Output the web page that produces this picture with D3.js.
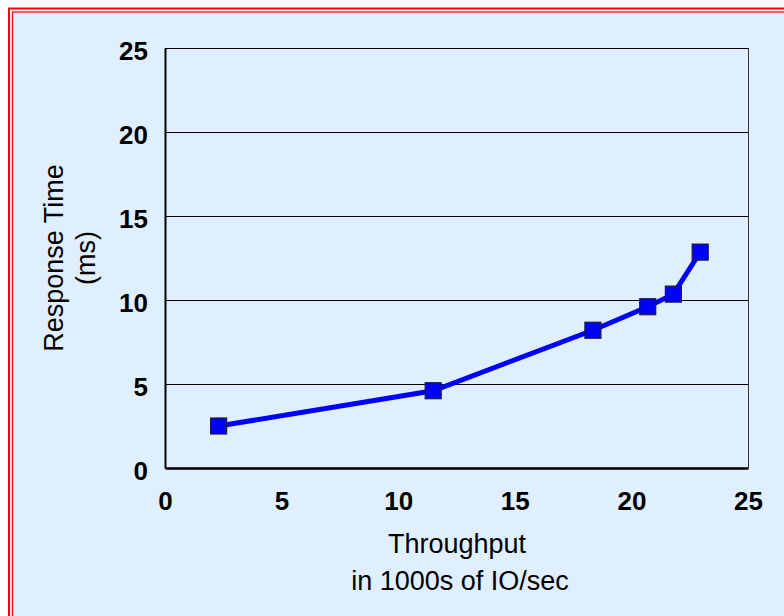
<!DOCTYPE html>
<html lang="en">
<head>
<meta charset="utf-8">
<title>Response Time vs Throughput</title>
<script src="https://d3js.org/d3.v7.min.js"></script>
<style>
  body { margin: 0; background: #ffffff; }
  .tick text { font-family: "Liberation Sans", Arial, sans-serif; font-weight: bold; font-size: 26px; fill: #000; }
  .title { font-family: "Liberation Sans", Arial, sans-serif; font-size: 27px; fill: #000; }
</style>
</head>
<body>
<script>
// data
const throughput = [2.3, 11.5, 18.35, 20.7, 21.8, 22.95];
const responseTime = [2.5, 4.6, 8.2, 9.6, 10.35, 12.85];
const xTicks = [0, 5, 10, 15, 20, 25];
const yTicks = [0, 5, 10, 15, 20, 25];

const W = 784, H = 616;
const plot = { left: 165, right: 748, top: 48, bottom: 468 };

const svg = d3.select("body").append("svg")
  .attr("width", W).attr("height", H);

// background + red double frame (frame runs off the right/bottom edges)
svg.append("rect").attr("x", 0).attr("y", 0).attr("width", W).attr("height", H).attr("fill", "#ffffff");
svg.append("rect").attr("x", 9).attr("y", 8.5).attr("width", W + 20).attr("height", H + 20)
  .attr("fill", "#dfefff").attr("stroke", "#ff0000").attr("stroke-width", 2);
svg.append("rect").attr("x", 12.5).attr("y", 12).attr("width", W + 20).attr("height", H + 20)
  .attr("fill", "none").attr("stroke", "#ff0000").attr("stroke-width", 1.2);

const x = d3.scaleLinear().domain([0, 25]).range([plot.left, plot.right]);
const y = d3.scaleLinear().domain([0, 25]).range([plot.bottom, plot.top]);

// gridlines
svg.append("g").selectAll("line")
  .data(yTicks.filter(d => d > 0))
  .join("line")
  .attr("x1", plot.left).attr("x2", plot.right)
  .attr("y1", d => Math.round(y(d)) + 0.5).attr("y2", d => Math.round(y(d)) + 0.5)
  .attr("stroke", "#000").attr("stroke-width", 1);

// right border of plot
svg.append("line")
  .attr("x1", plot.right + 0.5).attr("x2", plot.right + 0.5)
  .attr("y1", plot.top).attr("y2", plot.bottom)
  .attr("stroke", "#333").attr("stroke-width", 1);

// axes
const xAxis = d3.axisBottom(x).tickValues(xTicks).tickSize(0).tickPadding(24);
const yAxis = d3.axisLeft(y).tickValues(yTicks).tickSize(0).tickPadding(17);

const gx = svg.append("g").attr("transform", `translate(0,${plot.bottom})`).call(xAxis);
gx.select(".domain").attr("stroke", "#000").attr("stroke-width", 2.5);

const gy = svg.append("g").attr("transform", `translate(${plot.left},0)`).call(yAxis);
gy.select(".domain").attr("stroke", "#000").attr("stroke-width", 2);
gy.selectAll(".tick text").attr("dy", "0.43em");

// series line
const pts = throughput.map((t, i) => [t, responseTime[i]]);
svg.append("path")
  .datum(pts)
  .attr("d", d3.line().x(d => x(d[0])).y(d => y(d[1])))
  .attr("fill", "none").attr("stroke", "#0000ff").attr("stroke-width", 5);

// square markers
const ms = 16;
svg.append("g").selectAll("rect")
  .data(pts)
  .join("rect")
  .attr("x", d => x(d[0]) - ms / 2).attr("y", d => y(d[1]) - ms / 2)
  .attr("width", ms).attr("height", ms)
  .attr("fill", "#0000ff").attr("stroke", "#1a1a40").attr("stroke-width", 1.2);

// axis titles
svg.append("text").attr("class", "title")
  .attr("transform", "translate(63,258) rotate(-90)")
  .attr("text-anchor", "middle").text("Response Time");
svg.append("text").attr("class", "title")
  .attr("transform", "translate(95,258) rotate(-90)")
  .attr("text-anchor", "middle").text("(ms)");

svg.append("text").attr("class", "title")
  .attr("x", 457).attr("y", 553).attr("text-anchor", "middle").text("Throughput");
svg.append("text").attr("class", "title")
  .attr("x", 460).attr("y", 590).attr("text-anchor", "middle").text("in 1000s of IO/sec");
</script>
</body>
</html>
